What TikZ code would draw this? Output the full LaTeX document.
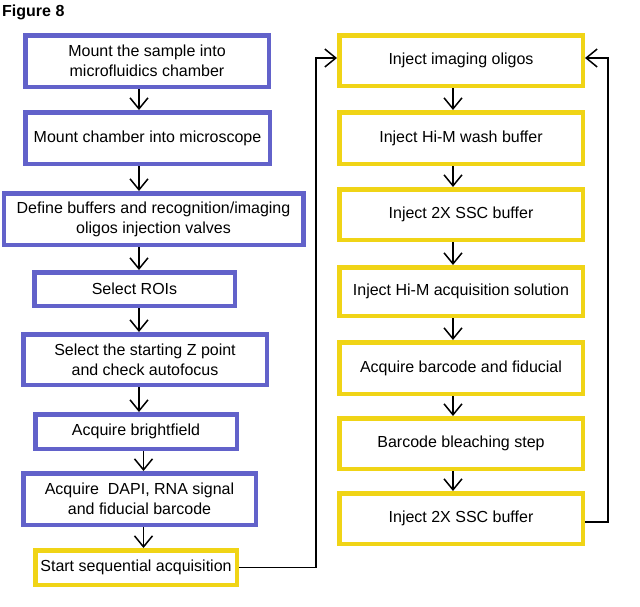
\documentclass[tikz,border=0pt]{standalone}
\usepackage{fontspec}
\setmainfont{Liberation Sans}
\usetikzlibrary{positioning,arrows.meta}
\definecolor{stepblue}{RGB}{98,98,202}
\definecolor{stepyellow}{RGB}{240,212,22}
\tikzstyle{object}=[rectangle, draw, line width=4.5pt, fill=white, text=black,
        align=center, inner sep=2pt, minimum height=51.5pt,
        font=\fontsize{16pt}{20pt}\selectfont]
\tikzstyle{bluebox}=[object, draw=stepblue]
\tikzstyle{yellowbox}=[object, draw=stepyellow, minimum width=243.5pt]
\tikzstyle{flow}=[-{Straight Barb[length=11pt,width=18pt]}, line width=1.5pt, black]

\begin{document}
\begin{tikzpicture}[x=1pt, y=-1pt]
        \useasboundingbox (0,0) rectangle (640,606);
        \node (Title) [anchor=base west, inner sep=0pt, font=\fontsize{16pt}{20pt}\selectfont\bfseries] at (2,16) {Figure 8};

        % preparation steps
        \node (Mount) [bluebox, minimum width=243.5pt] at (147,61)
        {Mount the sample into\\microfluidics chamber};
        \node (Chamber) [bluebox, minimum width=244.5pt, below=21pt of Mount, xshift=0.5pt]
        {Mount chamber into microscope};
        \node (Valves) [bluebox, minimum width=299.5pt, below=25pt of Chamber, xshift=6pt]
        {Define buffers and recognition/imaging\\oligos injection valves};
        \node (ROIs) [bluebox, minimum width=200.5pt, minimum height=33.5pt, below=23pt of Valves, xshift=-19pt]
        {Select ROIs};
        \node (Zpoint) [bluebox, minimum width=243.5pt, minimum height=50.5pt, below=24pt of ROIs, xshift=10.5pt]
        {Select the starting Z point\\and check autofocus};
        \node (Bright) [bluebox, minimum width=201.5pt, minimum height=34.5pt, below=25pt of Zpoint, xshift=-9pt]
        {Acquire brightfield};
        \node (DAPI) [bluebox, minimum width=232.5pt, below=20pt of Bright, xshift=3.5pt]
        {Acquire\ \ DAPI, RNA signal\\and fiducial barcode};
        \node (Start) [yellowbox, minimum width=201.5pt, minimum height=34.5pt, below=21pt of DAPI, xshift=-3.5pt]
        {Start sequential acquisition};

        % sequential cycle
        \node (Oligos) [yellowbox, minimum height=50.5pt] at (461,60.5)
        {Inject imaging oligos};
        \node (Wash) [yellowbox, below=22pt of Oligos] {Inject Hi-M wash buffer};
        \node (SSC) [yellowbox, minimum height=50.5pt, below=21pt of Wash] {Inject 2X SSC buffer};
        \node (Solution) [yellowbox, minimum height=48.5pt, below=23pt of SSC] {Inject Hi-M acquisition solution};
        \node (Barcode) [yellowbox, below=22pt of Solution] {Acquire barcode and fiducial};
        \node (Bleach) [yellowbox, minimum height=50.5pt, below=20pt of Barcode] {Barcode bleaching step};
        \node (Rinse) [yellowbox, minimum height=50.5pt, below=20pt of Bleach] {Inject 2X SSC buffer};

        \coordinate (leftaxis) at (139,0);
        \coordinate (lowaxis) at (143.5,0);
        \coordinate (rightaxis) at (453,0);
        \coordinate (leftrail) at (316,0);
        \coordinate (rightrail) at (608,0);
        \coordinate (loopleft) at ([yshift=2.5pt]Oligos.west);
        \coordinate (loopright) at ([yshift=2.5pt]Oligos.east);
        \coordinate (loopstart) at ([yshift=-3.5pt]Rinse.east);

        \draw[flow] (Mount.south -| leftaxis) -- (Chamber.north -| leftaxis);
        \draw[flow] (Chamber.south -| leftaxis) -- (Valves.north -| leftaxis);
        \draw[flow] (Valves.south -| leftaxis) -- (ROIs.north -| leftaxis);
        \draw[flow] (ROIs.south -| leftaxis) -- (Zpoint.north -| leftaxis);
        \draw[flow] (Zpoint.south -| leftaxis) -- (Bright.north -| leftaxis);
        \draw[flow] (Bright.south -| lowaxis) -- (DAPI.north -| lowaxis);
        \draw[flow] (DAPI.south -| lowaxis) -- (Start.north -| lowaxis);

        \draw[flow] (Oligos.south -| rightaxis) -- (Wash.north -| rightaxis);
        \draw[flow] (Wash.south -| rightaxis) -- (SSC.north -| rightaxis);
        \draw[flow] (SSC.south -| rightaxis) -- (Solution.north -| rightaxis);
        \draw[flow] (Solution.south -| rightaxis) -- (Barcode.north -| rightaxis);
        \draw[flow] (Barcode.south -| rightaxis) -- (Bleach.north -| rightaxis);
        \draw[flow] (Bleach.south -| rightaxis) -- (Rinse.north -| rightaxis);

        % loops back to the first injection
        \draw[flow] (Start.east) -- (Start.east -| leftrail) -- (leftrail |- loopleft) -- (loopleft);
        \draw[flow] (loopstart) -- (loopstart -| rightrail) -- (rightrail |- loopright) -- (loopright);
      \end{tikzpicture}
\end{document}
